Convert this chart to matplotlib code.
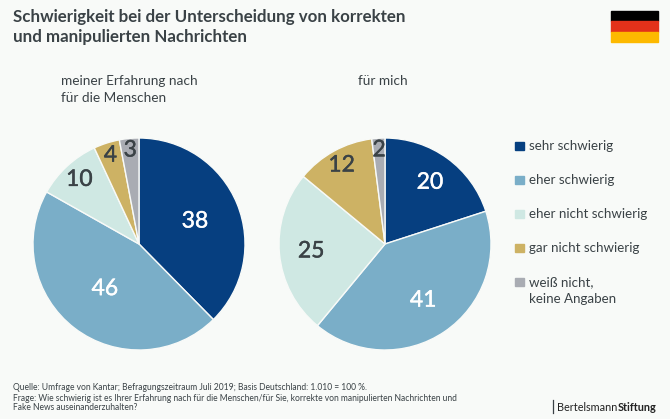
import numpy as np
from matplotlib import pyplot as plt
from matplotlib.patches import Rectangle
import matplotlib.patheffects as pe

plt.rcParams['font.family'] = ['Lato', 'DejaVu Sans']

W, H = 670, 419

categories = ['sehr schwierig', 'eher schwierig', 'eher nicht schwierig',
              'gar nicht schwierig', 'weiß nicht,\nkeine Angaben']
werte_menschen = [38, 46, 10, 4, 3]
werte_mich = [20, 41, 25, 12, 2]

farben = ['#063f80', '#7aaec8', '#cfe8e3', '#cdb264', '#a9acb3']
textfarben = ['white', 'white', '#3a4246', '#3a4246', '#3a4246']
abstand_menschen = [0.57, 0.53, 0.83, 0.88, 0.89]
abstand_mich = [0.72, 0.64, 0.70, 0.85, 0.89]

bg = '#f8faf8'
dunkel = '#3a4246'

fig = plt.figure(figsize=(W / 100, H / 100), dpi=100, facecolor=bg)


# Pixelkoordinaten -> Figure
def fx(x):
    return x / W


def fy(y):
    return 1 - y / H


def txt(x, y, s, **kw):
    kw.setdefault('color', dunkel)
    kw.setdefault('va', 'center')
    fig.text(fx(x), fy(y), s, **kw)


def torte(cx, cy, r, werte, abstand):
    ax = fig.add_axes([fx(cx - r), fy(cy + r), 2 * r / W, 2 * r / H])
    wedges, _ = ax.pie(werte, colors=farben, startangle=90, counterclock=False,
                       radius=1, wedgeprops={'linewidth': 1.0, 'edgecolor': '#f8faf8'})
    ax.set_xlim(-1, 1)
    ax.set_ylim(-1, 1)
    ax.set_aspect('equal')
    for w, v, d, c in zip(wedges, werte, abstand, textfarben):
        a = np.deg2rad((w.theta1 + w.theta2) / 2)
        t = ax.text(d * np.cos(a), d * np.sin(a), str(v), ha='center', va='center',
                    color=c, fontsize=16.5)
        # Lato regular etwas kraeftiger, wie im Original
        t.set_path_effects([pe.withStroke(linewidth=0.3, foreground=c)])


torte(139, 244, 106, werte_menschen, abstand_menschen)
torte(385, 244, 106, werte_mich, abstand_mich)

# Titel
txt(13, 17, 'Schwierigkeit bei der Unterscheidung von korrekten', fontsize=12.15, fontweight='bold')
txt(13, 37, 'und manipulierten Nachrichten', fontsize=12.15, fontweight='bold')

# Untertitel
txt(61, 81, 'meiner Erfahrung nach', fontsize=9.8)
txt(61, 98, 'für die Menschen', fontsize=9.8)
txt(358, 81, 'für mich', fontsize=9.8)

# Legende
leg_y = [146, 180, 214, 248, 282]
for y, name, f in zip(leg_y, categories, farben):
    fig.add_artist(Rectangle((fx(515), fy(y + 4)), 9 / W, 8 / H, color=f,
                             transform=fig.transFigure))
    zeilen = name.split('\n')
    for i, z in enumerate(zeilen):
        txt(529, y + i * 17, z, fontsize=9.6)

# Flagge
for i, f in enumerate(['#000000', '#e3311a', '#fdb900']):
    fig.add_artist(Rectangle((fx(611), fy(11 + (i + 1) * 10.5)), 47 / W, 10.5 / H,
                             color=f, transform=fig.transFigure))

# Quelle
txt(13, 387, 'Quelle: Umfrage von Kantar; Befragungszeitraum Juli 2019; Basis Deutschland: 1.010 = 100 %.', fontsize=6.15)
txt(13, 398, 'Frage: Wie schwierig ist es Ihrer Erfahrung nach für die Menschen/für Sie, korrekte von manipulierten Nachrichten und', fontsize=6.15)
txt(13, 407, 'Fake News auseinanderzuhalten?', fontsize=6.15)

# Logo
fig.add_artist(plt.Line2D([fx(553), fx(553)], [fy(400), fy(413)], color=dunkel, lw=0.9,
                          transform=fig.transFigure))
t = fig.text(fx(557), fy(407), 'Bertelsmann', fontsize=7.8, color='#222222', va='center')
fig.canvas.draw()
bb = t.get_window_extent()
fig.text(bb.x1 / W, fy(407), 'Stiftung', fontsize=7.8, color='#222222', va='center', fontweight='bold')

fig.savefig('out.png', dpi=100, facecolor=bg)
